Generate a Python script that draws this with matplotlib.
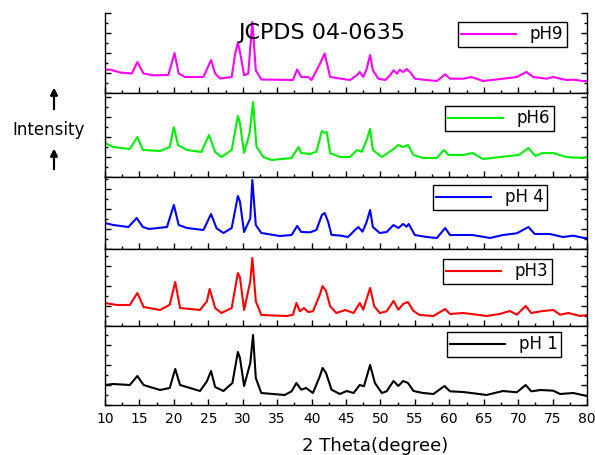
import matplotlib
matplotlib.use("Agg")
import matplotlib.pyplot as plt
from matplotlib.ticker import MultipleLocator

# XRD traces (2theta in degrees, intensity in a.u.)
ph9_x = [10, 10.7, 12.2, 13.9, 14.7, 15.6, 17.0, 19.2, 20.1, 20.7, 21.6, 24.3, 25.4, 26.0, 26.7,
         28.4, 28.9, 29.3, 29.6, 30.2, 30.8, 31.4, 31.9, 32.7, 37.3, 37.9, 38.5, 39.5, 40.0, 41.2,
         41.9, 42.7, 44.1, 45.6, 46.6, 47.0, 47.5, 48.0, 48.5, 48.9, 49.7, 50.7, 51.4, 51.9, 52.4,
         52.8, 53.3, 53.8, 54.3, 55.0, 56.7, 58.2, 59.4, 60.1, 62.0, 63.2, 64.9, 67.8, 69.8, 71.2,
         72.2, 74.1, 75.1, 77.0, 78.0, 79.4, 80]
ph9_y = [23, 23.5, 20.5, 19.5, 31, 19.5, 17.7, 18, 40, 19.5, 16, 16, 33, 19.5, 14.5,
         16, 39, 50.5, 41, 17.7, 19.3, 71, 22.7, 13.5, 13, 23.5, 16, 16, 13, 29,
         39.5, 16, 14.5, 13, 18, 21, 16, 24, 38, 22.7, 14.3, 13, 17.7, 22.7, 19.3,
         23.3, 21, 24, 21, 14.3, 13, 12, 18.7, 14.3, 14.3, 16, 12, 14.3, 16, 21,
         16, 14.3, 16, 13, 13.3, 12, 12]

ph6_x = [10, 11.2, 13.6, 14.7, 15.5, 18.0, 19.4, 20.0, 20.6, 21.9, 24.0, 25.1, 26.0, 26.9, 28.4,
         29.3, 29.6, 30.2, 31.0, 31.5, 32.0, 33.0, 34.2, 37.1, 38.1, 38.5, 39.8, 40.7, 41.5, 41.9,
         42.2, 42.7, 44.1, 45.6, 46.6, 47.3, 48.0, 48.5, 48.9, 50.2, 51.7, 52.6, 53.3, 54.0, 54.8,
         56.2, 58.2, 59.2, 59.9, 62.0, 63.4, 64.9, 67.8, 70.1, 71.5, 72.5, 73.5, 75.1, 77.0, 79.4, 80]
ph6_y = [34, 30, 28, 40, 27, 26, 30, 50, 32, 27, 25, 42, 25, 20, 27,
         61, 53.7, 24, 43.7, 75, 30.3, 20, 17, 19, 30, 24, 23, 25.3, 46, 44,
         45, 24, 20, 20, 27, 25.3, 37, 48, 27, 20, 27, 32, 30, 32, 22,
         19, 19, 27, 22, 22, 24, 18, 20.3, 22, 29, 21, 24, 24, 20, 19, 20]

ph4_x = [10, 11.2, 13.4, 14.6, 15.5, 16.4, 19.0, 20.0, 20.7, 21.9, 24.3, 25.4, 26.2, 27.2, 28.4,
         29.3, 29.6, 30.2, 31.1, 31.4, 31.9, 32.7, 35.4, 37.1, 37.9, 38.5, 39.8, 40.7, 41.5, 41.9,
         42.4, 42.9, 44.1, 45.3, 46.3, 46.8, 47.4, 48.0, 48.5, 48.9, 49.9, 50.9, 51.9, 52.6, 53.3,
         53.8, 54.1, 55.0, 56.7, 58.2, 59.4, 60.1, 63.4, 65.9, 67.8, 69.8, 71.5, 72.4, 74.6, 76.5,
         78.0, 79.6, 80]
ph4_y = [26, 24, 22, 31, 22, 20, 22, 44, 24, 21, 19, 35, 20.7, 16, 21,
         53, 47.3, 17, 30.7, 69, 24, 16, 13, 14, 23, 17, 16.7, 19, 34, 36,
         27.3, 14, 13.5, 12, 19, 22, 17.3, 27, 39, 22, 16, 17, 24, 21, 25,
         22.3, 25, 14, 12, 11, 21, 14, 14, 11, 14, 15.7, 22, 15, 15, 12,
         13.3, 11, 11]

ph3_x = [10, 11.7, 13.6, 14.7, 15.6, 18.0, 19.4, 20.2, 20.9, 23.8, 24.8, 25.2, 26.0, 26.9, 28.4,
         29.3, 29.6, 30.2, 31.1, 31.4, 31.9, 32.7, 36.4, 37.3, 37.8, 38.3, 38.9, 39.5, 40.2, 41.2,
         41.6, 42.1, 42.7, 43.6, 44.9, 46.1, 47.0, 47.5, 48.5, 49.1, 49.9, 50.9, 51.9, 52.6, 53.3,
         54.0, 54.8, 55.7, 57.7, 59.4, 60.1, 62.0, 64.0, 65.4, 67.3, 68.8, 69.8, 71.1, 71.9, 73.6,
         75.1, 76.1, 77.3, 79.0, 80]
ph3_y = [23, 21, 21, 33, 19, 16, 21.3, 44, 18, 16, 24.7, 37, 18, 13, 18,
         53, 48.7, 16, 44.7, 68, 24.7, 11, 10, 11.3, 23, 14.7, 18, 14, 14.7, 31.3,
         40, 35, 19.7, 13, 16, 13, 23, 16.3, 38, 19.7, 13, 14.7, 25, 16.3, 22,
         24, 15, 11, 10, 17, 12, 13, 11.3, 10, 12, 15, 11.3, 20, 13, 15,
         16, 11.3, 13, 10, 11]

ph1_x = [10, 11.2, 13.6, 14.7, 15.6, 18.0, 19.4, 20.2, 20.9, 23.8, 24.8, 25.4, 26.0, 27.2, 28.5,
         29.3, 29.6, 30.2, 31.1, 31.5, 31.9, 32.7, 36.1, 37.1, 37.8, 38.5, 39.2, 40.2, 41.2, 41.6,
         42.1, 42.9, 44.1, 45.1, 46.1, 47.0, 47.6, 48.5, 49.2, 50.2, 50.9, 51.9, 52.6, 53.3, 54.0,
         54.8, 56.2, 57.7, 59.3, 60.1, 62.0, 64.0, 65.4, 67.8, 69.8, 71.1, 71.9, 73.3, 75.1, 76.1,
         78.0, 80]
ph1_y = [20, 21, 20, 29, 20, 15, 17, 36, 20, 14, 23.7, 34, 18, 14, 22,
         53, 47, 19, 42, 70, 27, 12, 10, 13.7, 22, 15.3, 17, 12, 28.7, 37,
         32, 15.3, 11, 14, 12, 20, 18.7, 40, 22, 12, 13.7, 24, 19, 24, 22,
         14, 12, 11, 19, 13.7, 13, 11.3, 10, 14, 12.7, 20, 13.7, 15, 14.3, 11,
         12, 9]

labels = ["pH9", "pH6", "pH 4", "pH3", "pH 1"]
colors = ["#ff00ff", "#00ee00", "#0000ff", "#ff0000", "#000000"]
xs = [ph9_x, ph6_x, ph4_x, ph3_x, ph1_x]
ys = [ph9_y, ph6_y, ph4_y, ph3_y, ph1_y]

W, H = 595, 455
fig = plt.figure(figsize=(W / 100, H / 100), dpi=100)


def fx(px):
    return px / W


def fy(py):
    return 1 - py / H


# panel edges in pixels (top, bottom) and legend box corners
tops = [13, 93, 177, 249, 326]
bottoms = [93, 177, 249, 326, 405]
leg_pos = [(458, 22), (445, 106), (433, 185), (443, 259), (447, 332)]
left, right = 105, 587

for i in range(5):
    ax = fig.add_axes([fx(left), fy(bottoms[i]), fx(right) - fx(left),
                       (bottoms[i] - tops[i]) / H])
    ax.plot(xs[i], ys[i], color=colors[i], lw=1.5, label=labels[i])
    ax.set_xlim(10, 80)
    ax.set_ylim(0, bottoms[i] - tops[i])
    ax.xaxis.set_major_locator(MultipleLocator(5))
    ax.xaxis.set_minor_locator(MultipleLocator(2.5))
    ax.yaxis.set_major_locator(MultipleLocator(20))
    ax.yaxis.set_minor_locator(MultipleLocator(10))
    ax.tick_params(which="both", direction="in", left=True, right=True, bottom=True, top=False,
                   labelleft=False, width=1)
    ax.tick_params(which="major", length=4)
    ax.tick_params(which="minor", length=2.5)
    for s in ax.spines.values():
        s.set_linewidth(1.0)
    if i == 0:
        ax.spines["top"].set_visible(False)
    if i < 4:
        ax.tick_params(labelbottom=False)
    else:
        ax.tick_params(axis="x", labelsize=10, pad=5)
    ax.legend(loc="upper left", bbox_to_anchor=(fx(leg_pos[i][0]), fy(leg_pos[i][1])),
              bbox_transform=fig.transFigure, borderaxespad=0, fancybox=False,
              edgecolor="black", framealpha=1, fontsize=12, handlelength=3.3,
              handletextpad=0.8, borderpad=0.2)

fig.text(fx(238), fy(33), "JCPDS 04-0635", fontsize=16, ha="left", va="center")
fig.text(fx(12), fy(130), "Intensity", fontsize=12, ha="left", va="center")
fig.text(fx(375), fy(446), "2 Theta(degree)", fontsize=13, ha="center", va="center")

for tail, tip in [(112, 85), (172, 146)]:
    fig.add_artist(plt.annotate("", xy=(fx(54), fy(tip)), xytext=(fx(54), fy(tail)),
                                xycoords="figure fraction", textcoords="figure fraction",
                                arrowprops=dict(arrowstyle="-|>", color="black", lw=1.5)))

fig.savefig("out.png", dpi=100)
